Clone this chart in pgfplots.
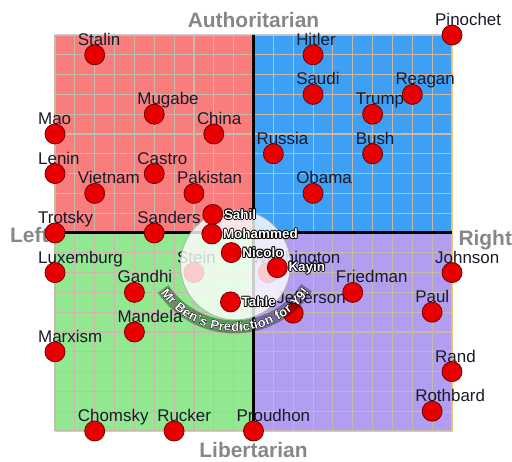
\documentclass[border=0pt]{standalone}
\usepackage{fontspec}
\setmainfont{Liberation Sans}
\usepackage{pgfplots}
\pgfplotsset{compat=1.18}
\usepackage{pgfplotstable}
\usetikzlibrary{decorations.text}
\definecolor{qred}{RGB}{250,125,125}
\definecolor{qblue}{RGB}{62,160,245}
\definecolor{qgreen}{RGB}{145,232,145}
\definecolor{qpurple}{RGB}{178,158,240}
\definecolor{dotred}{RGB}{232,0,0}
\definecolor{dotedge}{RGB}{110,0,0}
\definecolor{gridc}{RGB}{200,185,170}
\definecolor{labc}{RGB}{25,25,40}
\definecolor{dirc}{RGB}{135,135,135}
\definecolor{edgeo}{RGB}{245,200,120}

\newcommand\olt[1]{\leavevmode
 \rlap{\color{black}\kern-0.9pt#1}%
 \rlap{\color{black}\kern0.9pt#1}%
 \rlap{\color{black}\raisebox{0.9pt}{#1}}%
 \rlap{\color{black}\raisebox{-0.9pt}{#1}}%
 \rlap{\color{black}\kern-0.65pt\raisebox{0.65pt}{#1}}%
 \rlap{\color{black}\kern0.65pt\raisebox{0.65pt}{#1}}%
 \rlap{\color{black}\kern-0.65pt\raisebox{-0.65pt}{#1}}%
 \rlap{\color{black}\kern0.65pt\raisebox{-0.65pt}{#1}}%
 {\color{white}#1}}

\pgfplotsset{common/.style={
  scale only axis, width=397bp, height=396bp,
  xmin=-10, xmax=10, ymin=-10, ymax=10, clip=false}}

\pgfplotstableread{
x y label
-8 9 Stalin
-5 6 Mugabe
-10 5 Mao
-2 5 China
-10 3 Lenin
-5 3 Castro
-8 2 Vietnam
-3 2 Pakistan
-10 0 Trotsky
-5 0 Sanders
-3 -2 Stein
0.75 -2 Washington
-10 -2 Luxemburg
-6 -3 Gandhi
-6 -5 Mandela
-10 -6 Marxism
-8 -10 Chomsky
-4 -10 Rucker
0 -10 Proudhon
2 -4.05 Jefferson
5 -3 Friedman
10 -2 Johnson
9 -4 Paul
10 -7 Rand
9 -9 Rothbard
3 9 Hitler
3 7 Saudi
8 7 Reagan
6 6 Trump
1 4 Russia
6 4 Bush
3 2 Obama
10 10 Pinochet
}\pts

\pgfplotstableread{
x y label
-2.05 0.94 Sahil
-2.1 -0.05 Mohammed
-1.12 -0.99 Nicolo
1.2 -1.75 Kayin
-1.16 -3.48 Tahle
}\preds

\begin{document}
\begin{tikzpicture}
\begin{axis}[
  common, set layers,
  xtick={-10,...,10}, ytick={-10,...,10},
  xticklabels={}, yticklabels={},
  major tick length=0pt,
  grid=major, grid style={gridc, line width=1.1bp},
  axis line style={draw=none},
]
\begin{pgfonlayer}{axis background}
\fill[qred] (axis cs:-10,0) rectangle (axis cs:0,10);
\fill[qblue] (axis cs:0,0) rectangle (axis cs:10,10);
\fill[qgreen] (axis cs:-10,-10) rectangle (axis cs:0,0);
\fill[qpurple] (axis cs:0,-10) rectangle (axis cs:10,0);
\end{pgfonlayer}
\draw[gray!40, line width=1bp] (axis cs:-10,10) -- (axis cs:10,10);
\draw[edgeo, line width=1bp] (axis cs:10,10) -- (axis cs:10,-10) -- (axis cs:-10,-10);
\draw[black, line width=3bp] (axis cs:-10,0) -- (axis cs:10,0);
\draw[black, line width=3bp] (axis cs:0,-10) -- (axis cs:0,10);

\addplot[draw=none, mark=none, nodes near coords, point meta=explicit symbolic,
  every node near coord/.append style={anchor=base west, xshift=-17bp, yshift=9.5bp,
    font=\fontsize{17}{18}\selectfont, text=labc, inner sep=0pt}]
  table[x=x, y=y, meta=label] {\pts};
\addplot[only marks, mark=*, mark size=10bp,
  mark options={fill=dotred, draw=dotedge, line width=0.8bp}]
  table[x=x, y=y] {\pts};

\node[anchor=base, font=\bfseries\fontsize{21}{22}\selectfont, text=dirc, yshift=7bp] at (axis cs:0,10) {Authoritarian};
\node[anchor=base, font=\bfseries\fontsize{21}{22}\selectfont, text=dirc, yshift=-26bp] at (axis cs:0,-10) {Libertarian};
\node[anchor=base east, font=\bfseries\fontsize{21}{22}\selectfont, text=dirc, xshift=-3bp, yshift=-10bp] at (axis cs:-10,0) {Left};
\node[anchor=base west, font=\bfseries\fontsize{21}{22}\selectfont, text=dirc, xshift=3bp, yshift=-13bp] at (axis cs:10,0) {Right};
\end{axis}

\begin{axis}[common, hide axis]
\fill[white, opacity=0.8] (axis cs:-0.91,-1.61) circle[radius=55bp];
\draw[gray!60, line width=0.8bp] (axis cs:-0.91,-1.61) circle[radius=55bp];
\draw[black, opacity=0.35, line width=13bp]
  (axis cs:-0.96,-0.4) ++(214:86bp) arc[start angle=214, end angle=327, radius=86bp];
\coordinate (arcC) at (axis cs:-0.96,-0.4);
\addplot[only marks, mark=*, mark size=10bp,
  mark options={fill=dotred, draw=dotedge, line width=0.8bp}]
  table[x=x, y=y] {\preds};
\addplot[draw=none, mark=none, nodes near coords={\olt{\pgfplotspointmeta}}, point meta=explicit symbolic,
  every node near coord/.append style={anchor=west, xshift=11bp, yshift=0bp,
    font=\bfseries\fontsize{13.5}{14}\selectfont, inner sep=0pt}]
  table[x=x, y=y, meta=label] {\preds};
\end{axis}

\foreach \dx/\dy in {0.9bp/0bp,-0.9bp/0bp,0bp/0.9bp,0bp/-0.9bp,0.65bp/0.65bp,-0.65bp/0.65bp,0.65bp/-0.65bp,-0.65bp/-0.65bp}{
  \path[shift={(\dx,\dy)}, decorate, decoration={text along path, text align=center, raise=-4.5bp,
    text={|\bfseries\fontsize{13}{14}\selectfont\color{black}|Mr Ben's Prediction for Y9!}}]
    (arcC) ++(214:86bp) arc[start angle=214, end angle=327, radius=86bp];
}
\path[decorate, decoration={text along path, text align=center, raise=-4.5bp,
  text={|\bfseries\fontsize{13}{14}\selectfont\color{white}|Mr Ben's Prediction for Y9!}}]
  (arcC) ++(214:86bp) arc[start angle=214, end angle=327, radius=86bp];

\pgfresetboundingbox
\useasboundingbox (-55bp,-31bp) rectangle (457bp,431bp);
\end{tikzpicture}
\end{document}
